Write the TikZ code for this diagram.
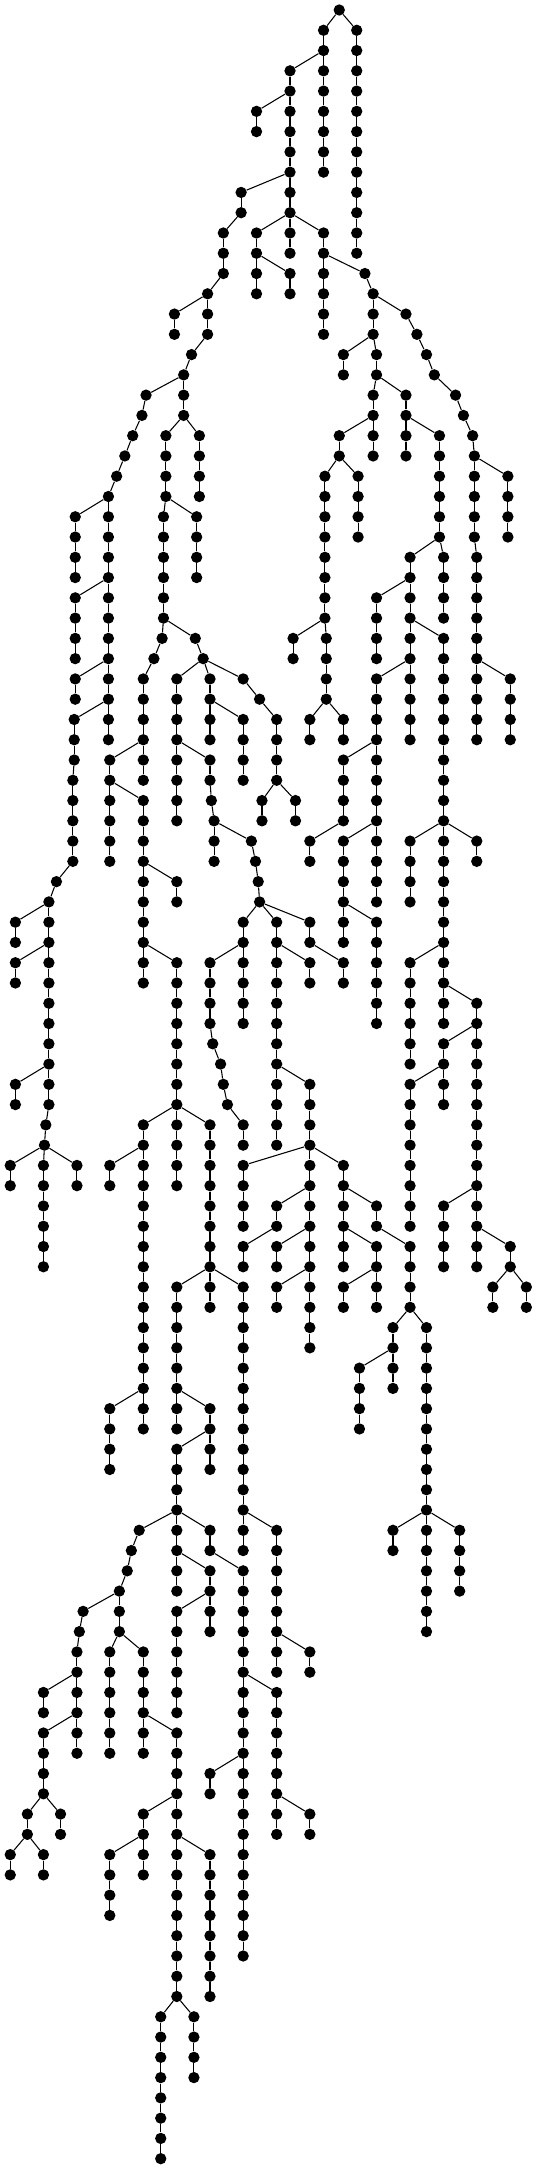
\documentclass[tikz,border=0pt]{standalone}
\usepackage{amsmath}

% column / first level / last level / parent of the first node
\newcommand{\treechains}{
946/1/8/992-0, 1043/1/12/992-0, 848/3/12/946-2, 750/5/6/848-4, 705/9/10/848-8,
653/11/13/705-10, 607/14/16/653-13, 510/15/16/607-14, 560/17/17/607-16, 537/18/20/560-17,
750/11/14/848-10, 848/13/14/750-12, 946/11/16/848-10, 1067/13/13/946-12, 1091/14/16/1067-13,
1187/15/15/1091-14, 1219/16/16/1187-15, 1247/17/17/1219-16, 1270/18/18/1247-17,
1332/19/19/1270-18, 1355/20/20/1332-19, 1382/21/21/1355-20, 1387/22/26/1382-21,
1485/23/26/1387-22, 1394/27/36/1387-26, 1492/33/36/1394-32,
1004/17/18/1091-16, 1101/17/18/1091-16, 1091/19/22/1101-18, 1187/19/22/1101-18,
992/21/22/1091-20, 950/23/30/992-22, 1047/23/26/992-22, 1285/21/26/1187-20,
1199/27/36/1285-26, 1297/27/30/1285-26, 1101/29/32/1199-28, 1101/33/44/1199-32,
1297/31/50/1199-30, 1199/41/44/1297-40, 1394/41/42/1297-40, 1199/47/52/1297-46,
1394/49/62/1297-48, 1297/51/54/1394-50, 1199/53/60/1297-52, 1297/59/62/1394-58,
1492/61/62/1394-60, 1441/63/64/1492-62, 1539/63/64/1492-62,
1004/37/40/1101-36, 906/41/42/1004-40, 1004/41/46/1101-40, 1101/45/50/1004-44,
857/31/32/950-30, 954/31/34/950-30, 906/35/36/954-34, 1004/35/36/954-34,
427/19/19/537-18, 485/21/24/537-20, 583/21/24/537-20, 415/20/20/427-19, 388/21/21/415-20,
365/22/22/388-21, 341/23/23/365-22, 317/24/36/341-23, 220/25/28/317-24, 220/29/32/317-28,
220/33/34/317-32, 217/35/37/317-34, 213/38/42/217-37, 165/43/43/213-42, 143/44/54/165-43,
45/45/46/143-44, 45/47/48/143-46, 45/53/54/143-52, 134/55/55/143-54, 130/56/56/134-55,
30/57/58/130-56, 127/57/62/130-56, 225/57/58/130-56,
478/25/30/485-24, 575/25/28/485-24, 474/31/31/478-30, 571/31/31/478-30, 450/32/32/474-31,
419/33/38/450-32, 321/37/38/419-36, 321/39/42/321-38, 419/39/48/321-38, 517/43/44/419-42,
517/47/58/419-46, 419/55/70/517-54, 321/57/58/419-56, 321/69/72/419-68, 614/55/64/517-54,
517/63/70/614-62, 711/63/76/614-62, 614/69/72/517-68, 517/71/78/614-70, 407/75/75/517-74,
614/75/76/517-74, 711/77/96/614-76, 614/77/80/517-76, 517/79/84/614-78, 809/75/82/711-74,
906/81/82/809-80, 809/83/90/711-82, 906/89/90/809-88, 614/87/88/711-86,
384/76/76/407-75, 372/77/77/384-76, 349/78/80/372-77, 243/79/79/349-78, 232/80/80/243-79,
225/81/86/232-80, 127/83/84/225-82, 127/85/88/225-84, 80/89/90/127-88, 177/89/90/127-88,
30/91/92/80-90, 127/91/92/80-90, 321/81/86/349-80, 419/81/86/349-80, 517/85/98/419-84,
419/89/92/517-88, 321/91/94/419-90, 614/91/98/517-90, 470/99/106/517-98, 567/99/102/517-98,
594/32/32/571-31, 517/33/40/594-32, 614/33/36/594-32, 711/33/33/594-32, 759/34/34/711-33,
809/35/38/759-34, 711/35/38/614-34, 766/39/40/809-38, 864/39/40/809-38,
614/37/38/517-36, 618/39/39/614-38, 626/40/42/618-39, 735/41/41/626-40, 747/42/42/735-41,
755/43/43/747-42, 759/44/44/755-43, 711/45/50/759-44, 809/45/52/759-44, 906/45/46/759-44,
1004/47/48/906-46, 906/47/48/809-46, 614/47/50/711-46, 622/51/51/614-50, 645/52/52/622-51,
653/53/53/645-52, 665/54/54/653-53, 711/55/56/665-54, 809/53/56/809-52,
906/53/66/809-52, 711/57/60/906-56, 1004/57/62/906-56, 809/59/60/906-58, 711/61/62/809-60,
809/61/62/906-60, 809/63/64/906-62, 1101/59/60/1004-58, 1199/61/64/1101-60, 1101/61/64/1004-60,
1004/63/64/1101-62, 1149/65/68/1199-64, 1247/65/80/1199-64, 1051/67/70/1149-66,
1149/75/76/1247-74, 1344/75/78/1247-74}

\begin{document}
\begin{tikzpicture}[x=0.2565pt, y=-15.2025pt]
	\useasboundingbox (0,-0.4933) rectangle (1567.25,106.51);
	\begin{scope}[every node/.style={fill=black, draw=none, circle, minimum size=8.5pt, inner sep=0}]
		\node (992-0) at (992,0) {};
		\foreach \cx/\lo/\hi/\up in \treechains {
			\foreach \lev in {\lo,...,\hi} {
				\node (\cx-\lev) at (\cx,\lev) {};
			}
		}
	\end{scope}
	\begin{scope}[every path/.style={thick}]
		\foreach \cx/\lo/\hi/\up in \treechains {
			\path (\up) edge (\cx-\lo);
			\foreach \lev [remember=\lev as \prev (initially \lo)] in {\lo,...,\hi} {
				\ifnum\lev>\lo
					\path (\cx-\prev) edge (\cx-\lev);
				\fi
			}
		}
	\end{scope}
\end{tikzpicture}
\end{document}
